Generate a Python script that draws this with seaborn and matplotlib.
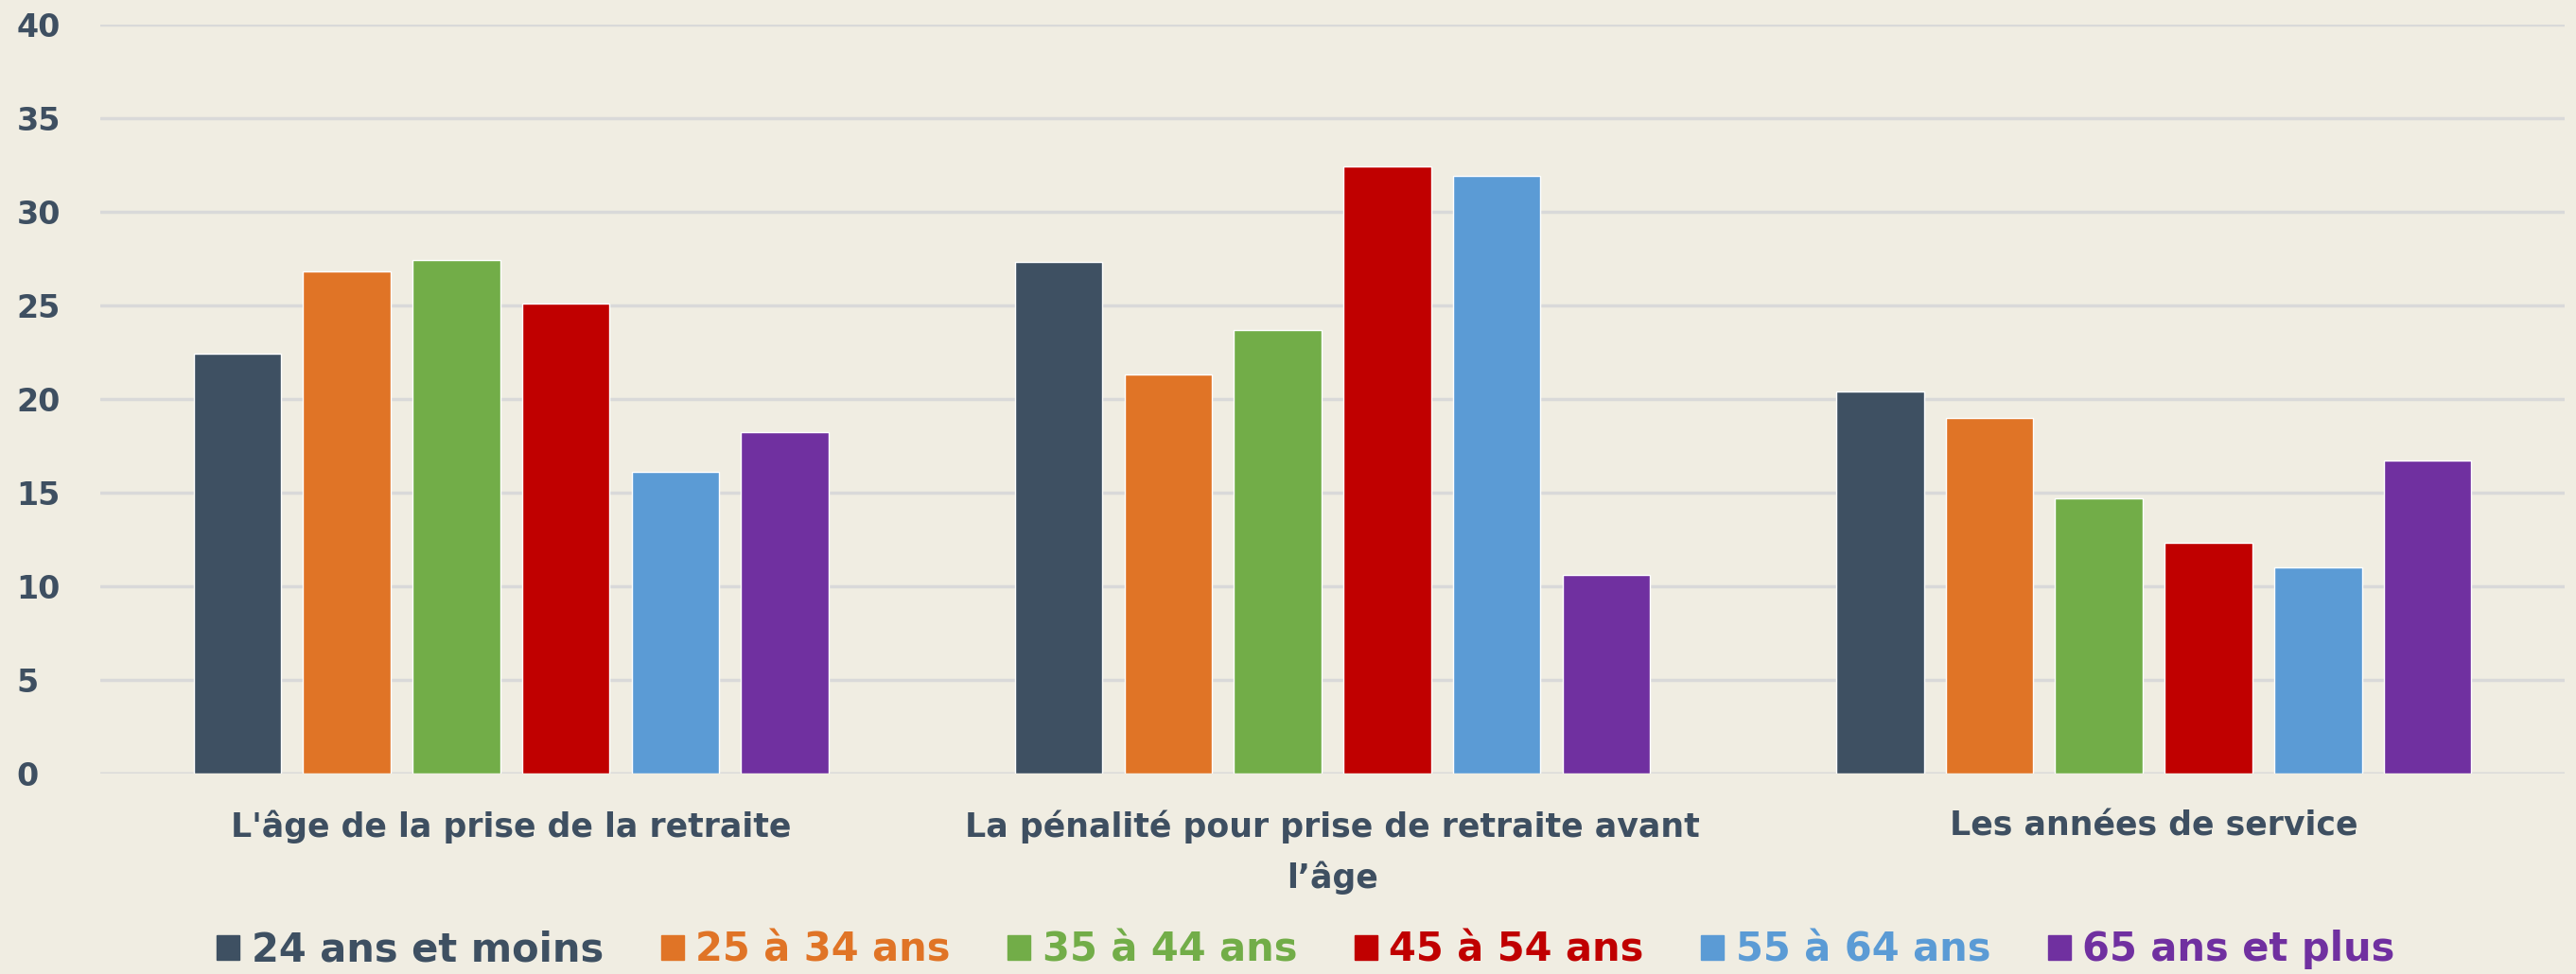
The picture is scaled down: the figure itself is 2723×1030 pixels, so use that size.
import pandas as pd
import seaborn as sns
import matplotlib.pyplot as plt

# categories on the x axis
categories = ["L'âge de la prise de la retraite",
              "La pénalité pour prise de retraite avant\nl’âge",
              "Les années de service"]

# age groups (hue)
groups = ["24 ans et moins", "25 à 34 ans", "35 à 44 ans",
          "45 à 54 ans", "55 à 64 ans", "65 ans et plus"]

# y axis ticks
yticks = [0, 5, 10, 15, 20, 25, 30, 35, 40]

# values, one list per age group
ans_24_moins = [22.4, 27.3, 20.4]
ans_25_34 = [26.8, 21.3, 19.0]
ans_35_44 = [27.4, 23.7, 14.7]
ans_45_54 = [25.1, 32.4, 12.3]
ans_55_64 = [16.1, 31.9, 11.0]
ans_65_plus = [18.2, 10.6, 16.7]

colors = ["#3E5062", "#E07426", "#72AD48", "#C00000", "#5B9BD5", "#7030A0"]
bg = "#F0EDE2"
txt = "#3E4F61"

series = [ans_24_moins, ans_25_34, ans_35_44, ans_45_54, ans_55_64, ans_65_plus]
rows = []
for g, vals in zip(groups, series):
    for c, v in zip(categories, vals):
        rows.append({"categorie": c, "groupe": g, "valeur": v})
df = pd.DataFrame(rows)

sns.set_theme(style="white")
plt.rcParams['font.family'] = ['DejaVu Sans']

fig = plt.figure(figsize=(27.23, 10.30), dpi=100, facecolor=bg)
ax = fig.add_axes([0.039, 0.206, 0.9565, 0.769])
ax.set_facecolor(bg)

sns.barplot(data=df, x="categorie", y="valeur", hue="groupe", order=categories,
            hue_order=groups, palette=colors, width=0.8, gap=0.2,
            saturation=1, ax=ax)

ax.set_ylim(0, 40)
ax.set_xlim(-0.5, 2.5)
ax.yaxis.grid(True, color="#D9D9D9", linewidth=2.5)
ax.set_axisbelow(True)
for s in ax.spines.values():
    s.set_visible(False)
ax.axhline(0, color="#D9D9D9", linewidth=2.5, zorder=0)

ax.set_xlabel("")
ax.set_ylabel("")
ax.tick_params(axis="y", length=0, pad=64, labelcolor=txt)
ax.tick_params(axis="x", length=0, pad=28, labelcolor=txt)
ax.set_yticks(yticks)
ax.set_yticklabels([str(v) for v in yticks], fontfamily="DejaVu Sans",
                   fontsize=24, fontweight="bold", ha="left")
ax.set_xticks(range(len(categories)))
ax.set_xticklabels(categories, fontsize=25, fontweight="bold", linespacing=1.65)

ax.legend_.remove()
handles = [plt.Rectangle((0, 0), 1, 1, color=c) for c in colors]
leg = fig.legend(handles, groups, loc="center", bbox_to_anchor=(0.507, 0.025),
                 ncol=6, frameon=False, handlelength=0.58,
                 handleheight=0.58, handletextpad=0.3, columnspacing=1.45,
                 prop={"weight": "bold", "size": 30})
for t, c in zip(leg.get_texts(), colors):
    t.set_color(c)

fig.savefig("out.png", dpi=100, facecolor=bg)
